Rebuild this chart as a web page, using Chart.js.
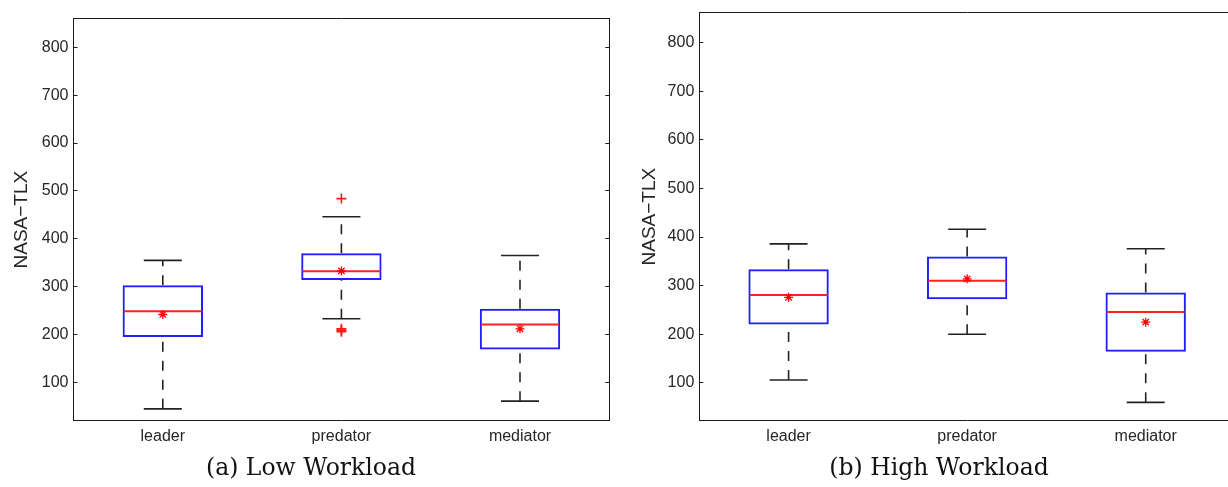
<!DOCTYPE html>
<html>
<head>
<meta charset="utf-8">
<script src="https://cdn.jsdelivr.net/npm/chart.js@4.4.1/dist/chart.umd.min.js"></script>
<style>
    html, body { margin: 0; padding: 0; background: #fff; overflow: hidden; }
    #wrap { position: relative; width: 1228px; height: 487px; overflow: hidden; }
    #chart_low { position: absolute; left: 0; top: 0; }
    #chart_high { position: absolute; left: 622px; top: 0; }
</style>
</head>
<body>
<div id="wrap">
    <canvas id="chart_low" width="622" height="487"></canvas>
    <canvas id="chart_high" width="634" height="487"></canvas>
</div>
<script>
const CATEGORIES = ['leader', 'predator', 'mediator'];
const Y_TICKS = [100, 200, 300, 400, 500, 600, 700, 800];

// (a) low workload
const low_min = [45, 233, 61];
const low_q1 = [195, 314, 169];
const low_median = [249, 332, 221];
const low_q3 = [303, 370, 254];
const low_max = [355, 446, 365];
const low_mean = [242, 333, 212];
const low_outliers = [[], [484, 212, 209, 206], []];

// (b) high workload
const high_min = [106, 200, 60];
const high_q1 = [220, 272, 164];
const high_median = [281, 310, 246];
const high_q3 = [334, 360, 286];
const high_max = [386, 416, 376];
const high_mean = [276, 314, 225];
const high_outliers = [[], [], []];

const TEXT_COLOR = '#262626';
const AXIS_COLOR = '#1a1a1a';

// fix an axis' size and drop the label overhang padding chart.js adds
function fixed_size(w, h) {
    return function (s) {
        if (w !== null) s.width = w;
        if (h !== null) s.height = h;
        s.paddingTop = 0;
        s.paddingBottom = 0;
        s.paddingLeft = 0;
        s.paddingRight = 0;
    };
}

function marker_set(label, pts, style, radius, color, width, order) {
    return {
        type: 'line',
        label: label,
        data: pts,
        showLine: false,
        pointStyle: style,
        pointRadius: radius,
        pointHoverRadius: radius,
        pointBorderColor: color,
        pointBackgroundColor: color,
        pointBorderWidth: width,
        order: order
    };
}

function box_datasets(mins, q1s, medians, q3s, maxs, means, outliers) {
    let whisker_pts = [];
    let cap_pts = [];
    let median_pts = [];
    let mean_pts = [];
    let outlier_pts = [];
    for (let i = 0; i < CATEGORIES.length; i++) {
        let c = CATEGORIES[i];
        // lower whisker drawn from min up to q1, upper from q3 up to max
        whisker_pts.push({x: c, y: mins[i]}, {x: c, y: q1s[i]}, {x: c, y: null});
        whisker_pts.push({x: c, y: q3s[i]}, {x: c, y: maxs[i]}, {x: c, y: null});
        cap_pts.push({x: c, y: mins[i]}, {x: c, y: maxs[i]});
        median_pts.push({x: c, y: medians[i]});
        mean_pts.push({x: c, y: means[i]});
        for (let v of outliers[i]) {
            outlier_pts.push({x: c, y: v});
        }
    }
    return [
        {
            type: 'bar',
            label: 'box',
            data: q1s.map((q, i) => [q, q3s[i]]),
            backgroundColor: 'rgba(0,0,0,0)',
            borderColor: '#1f1fff',
            borderWidth: 2,
            borderSkipped: false,
            barPercentage: 0.45,
            categoryPercentage: 1,
            order: 3
        },
        {
            type: 'line',
            label: 'whiskers',
            data: whisker_pts,
            borderColor: '#222',
            borderWidth: 1.6,
            borderDash: [10, 9],
            pointRadius: 0,
            pointHoverRadius: 0,
            spanGaps: false,
            order: 4
        },
        marker_set('caps', cap_pts, 'line', 19, '#222', 1.6, 2),
        marker_set('median', median_pts, 'line', 39, '#ff2020', 2, 1),
        marker_set('mean', mean_pts, 'star', 4.5, '#ff0000', 1.3, 0),
        marker_set('outliers', outlier_pts, 'cross', 5, '#ff1a1a', 1.6, 0)
    ];
}

function draw_box_chart(canvas_id, datasets, caption, y_min, y_max, y_width, y2_width, title_pad, top_pad) {
    let tick_marks = {drawOnChartArea: false, drawTicks: true, tickLength: -4, tickColor: AXIS_COLOR, tickWidth: 1};
    let frame = {display: true, color: AXIS_COLOR, width: 1};
    return new Chart(document.getElementById(canvas_id), {
        type: 'bar',
        data: {labels: CATEGORIES, datasets: datasets},
        options: {
            responsive: false,
            animation: false,
            devicePixelRatio: 1,
            events: [],
            layout: {autoPadding: false, padding: {left: 0, right: 0, top: top_pad, bottom: 4}},
            plugins: {
                legend: {display: false},
                tooltip: {enabled: false},
                title: {
                    display: true,
                    position: 'bottom',
                    text: caption,
                    color: '#111',
                    font: {family: 'DejaVu Serif', size: 23.5, weight: 'normal'},
                    padding: {top: 0, bottom: 0}
                }
            },
            scales: {
                x: {
                    type: 'category',
                    offset: true,
                    grid: {display: false, drawTicks: false},
                    border: frame,
                    ticks: {color: TEXT_COLOR, font: {family: 'Liberation Sans', size: 16}, padding: 6},
                    afterFit: fixed_size(null, 34)
                },
                x2: {
                    type: 'category',
                    position: 'top',
                    offset: true,
                    grid: {display: false, drawTicks: false},
                    border: frame,
                    ticks: {display: false},
                    afterFit: fixed_size(null, 0)
                },
                y: {
                    type: 'linear',
                    position: 'left',
                    min: y_min,
                    max: y_max,
                    afterBuildTicks: s => { s.ticks = Y_TICKS.map(v => ({value: v})); },
                    grid: tick_marks,
                    border: frame,
                    ticks: {color: TEXT_COLOR, font: {family: 'Liberation Sans', size: 16}, padding: 9},
                    title: {
                        display: true,
                        text: 'NASA\u2212TLX',
                        color: TEXT_COLOR,
                        font: {family: 'Liberation Sans', size: 19},
                        padding: {top: title_pad, bottom: 0}
                    },
                    afterFit: fixed_size(y_width, null)
                },
                y2: {
                    type: 'linear',
                    position: 'right',
                    min: y_min,
                    max: y_max,
                    afterBuildTicks: s => { s.ticks = Y_TICKS.map(v => ({value: v})); },
                    grid: tick_marks,
                    border: frame,
                    ticks: {display: false},
                    afterFit: fixed_size(y2_width, null)
                }
            }
        }
    });
}

let chart_low = draw_box_chart('chart_low',
    box_datasets(low_min, low_q1, low_median, low_q3, low_max, low_mean, low_outliers),
    '(a) Low Workload', 20, 860, 73.5, 12.7, 10.6, 18.5);

let chart_high = draw_box_chart('chart_high',
    box_datasets(high_min, high_q1, high_median, high_q3, high_max, high_mean, high_outliers),
    '(b) High Workload', 22, 862, 77.3, 21, 16.2, 12.5);
</script>
</body>
</html>
